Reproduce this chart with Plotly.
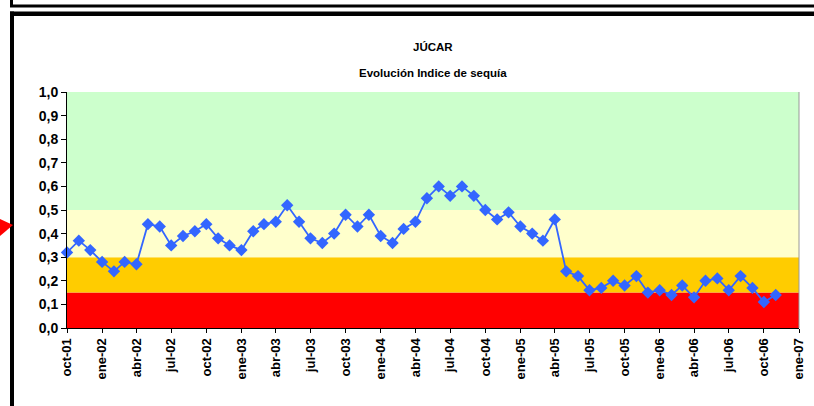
"""Júcar - evolución del índice de sequía (oct-01 a nov-06)."""

import pandas as pd
import plotly.graph_objects as go

# ---------------------------------------------------------------------------
# Datos
# ---------------------------------------------------------------------------
MES_INICIO = "2001-10-01"

INDICE = [
    0.32, 0.37, 0.33,                                      # oct-01 .. dic-01
    0.28, 0.24, 0.28, 0.27, 0.44, 0.43, 0.35, 0.39, 0.41, 0.44, 0.38, 0.35,  # 2002
    0.33, 0.41, 0.44, 0.45, 0.52, 0.45, 0.38, 0.36, 0.40, 0.48, 0.43, 0.48,  # 2003
    0.39, 0.36, 0.42, 0.45, 0.55, 0.60, 0.56, 0.60, 0.56, 0.50, 0.46, 0.49,  # 2004
    0.43, 0.40, 0.37, 0.46, 0.24, 0.22, 0.16, 0.17, 0.20, 0.18, 0.22, 0.15,  # 2005
    0.16, 0.14, 0.18, 0.13, 0.20, 0.21, 0.16, 0.22, 0.17, 0.11, 0.14,        # 2006
]

TICK_FECHAS = [
    "2001-10-01", "2002-01-01", "2002-04-01", "2002-07-01", "2002-10-01",
    "2003-01-01", "2003-04-01", "2003-07-01", "2003-10-01", "2004-01-01",
    "2004-04-01", "2004-07-01", "2004-10-01", "2005-01-01", "2005-04-01",
    "2005-07-01", "2005-10-01", "2006-01-01", "2006-04-01", "2006-07-01",
    "2006-10-01", "2007-01-01",
]
TICK_TEXTOS = [
    "oct-01", "ene-02", "abr-02", "jul-02", "oct-02", "ene-03", "abr-03",
    "jul-03", "oct-03", "ene-04", "abr-04", "jul-04", "oct-04", "ene-05",
    "abr-05", "jul-05", "oct-05", "ene-06", "abr-06", "jul-06", "oct-06",
    "ene-07",
]

# umbrales del indicador y color de cada franja
UMBRALES = [0.0, 0.15, 0.30, 0.50, 1.0]
COLORES_FRANJA = ["#FF0000", "#FFCC00", "#FFFFCC", "#CCFFCC"]

TITULO = "JÚCAR"
SUBTITULO = "Evolución Indice de sequía"

# ---------------------------------------------------------------------------
# Geometría de la página (px)
# ---------------------------------------------------------------------------
W, H = 814, 406
ML, MR, MT, MB = 67, 15, 92, 78
PW, PH = W - ML - MR, H - MT - MB

FONT = "Liberation Sans, Arial, sans-serif"
NARROW = "Liberation Sans Narrow, Arial Narrow, Liberation Sans, Arial, sans-serif"
AZUL = "#3366FF"


def px_x(px):
    return (px - ML) / PW


def px_y(py):
    return (H - MB - py) / PH


meses = pd.date_range(MES_INICIO, periods=len(INDICE), freq="MS")

fig = go.Figure()
fig.add_trace(go.Scatter(
    x=meses, y=INDICE, mode="lines+markers",
    line=dict(color=AZUL, width=1.8),
    marker=dict(symbol="diamond", size=9.5, color=AZUL),
    cliponaxis=False, showlegend=False,
))

shapes = []
# franjas de color
for lo, hi, col in zip(UMBRALES[:-1], UMBRALES[1:], COLORES_FRANJA):
    shapes.append(dict(type="rect", xref="paper", yref="y", x0=0, x1=1,
                       y0=lo, y1=hi, fillcolor=col, line_width=0, layer="below"))

# borde derecho gris del área de trazado
shapes.append(dict(type="line", xref="paper", yref="paper", x0=1, x1=1, y0=0, y1=1,
                   line=dict(color="#999999", width=1)))


def rect_px(x0, y0, x1, y1, color="black"):
    return dict(type="rect", xref="paper", yref="paper",
                x0=px_x(x0), x1=px_x(x1), y0=px_y(y0), y1=px_y(y1),
                fillcolor=color, line_width=0, layer="above")


# marcos negros de la hoja
shapes += [
    rect_px(13, 4.5, W, 7.5),
    rect_px(10, 0, 13, 7.5),
    rect_px(10, 11.5, W, 16),
    rect_px(10, 11.5, 14, H),
]

# flecha roja a la izquierda
shapes.append(dict(
    type="path", xref="paper", yref="paper",
    path=(f"M {px_x(0)},{px_y(219)} L {px_x(13)},{px_y(225)} "
          f"L {px_x(0)},{px_y(236)} Z"),
    fillcolor="#FF0000", line_width=0,
))

fig.update_layout(
    width=W, height=H,
    margin=dict(l=ML, r=MR, t=MT, b=MB, autoexpand=False),
    paper_bgcolor="white", plot_bgcolor="white",
    separators=",.",
    font=dict(family=FONT, color="black"),
    shapes=shapes,
    annotations=[
        dict(text=f"<b>{TITULO}</b>", xref="paper", yref="paper",
             x=px_x(433), y=px_y(47), xanchor="center", yanchor="middle",
             showarrow=False, font=dict(size=11.5, family=FONT)),
        dict(text=f"<b>{SUBTITULO}</b>", xref="paper", yref="paper",
             x=px_x(433), y=px_y(73), xanchor="center", yanchor="middle",
             showarrow=False, font=dict(size=11.5, family=FONT)),
    ],
)

fig.update_xaxes(
    range=["2001-10-01", "2007-01-01"], automargin=False,
    tickmode="array", tickvals=TICK_FECHAS,
    ticktext=[f"<b>{t}</b>" for t in TICK_TEXTOS],
    tickangle=-90, tickfont=dict(size=13, family=NARROW),
    ticks="outside", ticklen=4, tickcolor="black",
    showline=True, linecolor="black", linewidth=1,
    showgrid=False, zeroline=False,
)
fig.update_yaxes(
    range=[0, 1], dtick=0.1, tickformat=".1f", automargin=False,
    tickfont=dict(size=14, family=FONT),
    ticks="outside", ticklen=5, tickcolor="black",
    showline=True, linecolor="black", linewidth=1,
    showgrid=False, zeroline=False,
    tickprefix="<b>", ticksuffix="</b>",
)

# la página por defecto deja 8 px de margen en <body>
fig.write_html("out.html", config={"displayModeBar": False},
               post_script="document.body.style.margin = '0';")
